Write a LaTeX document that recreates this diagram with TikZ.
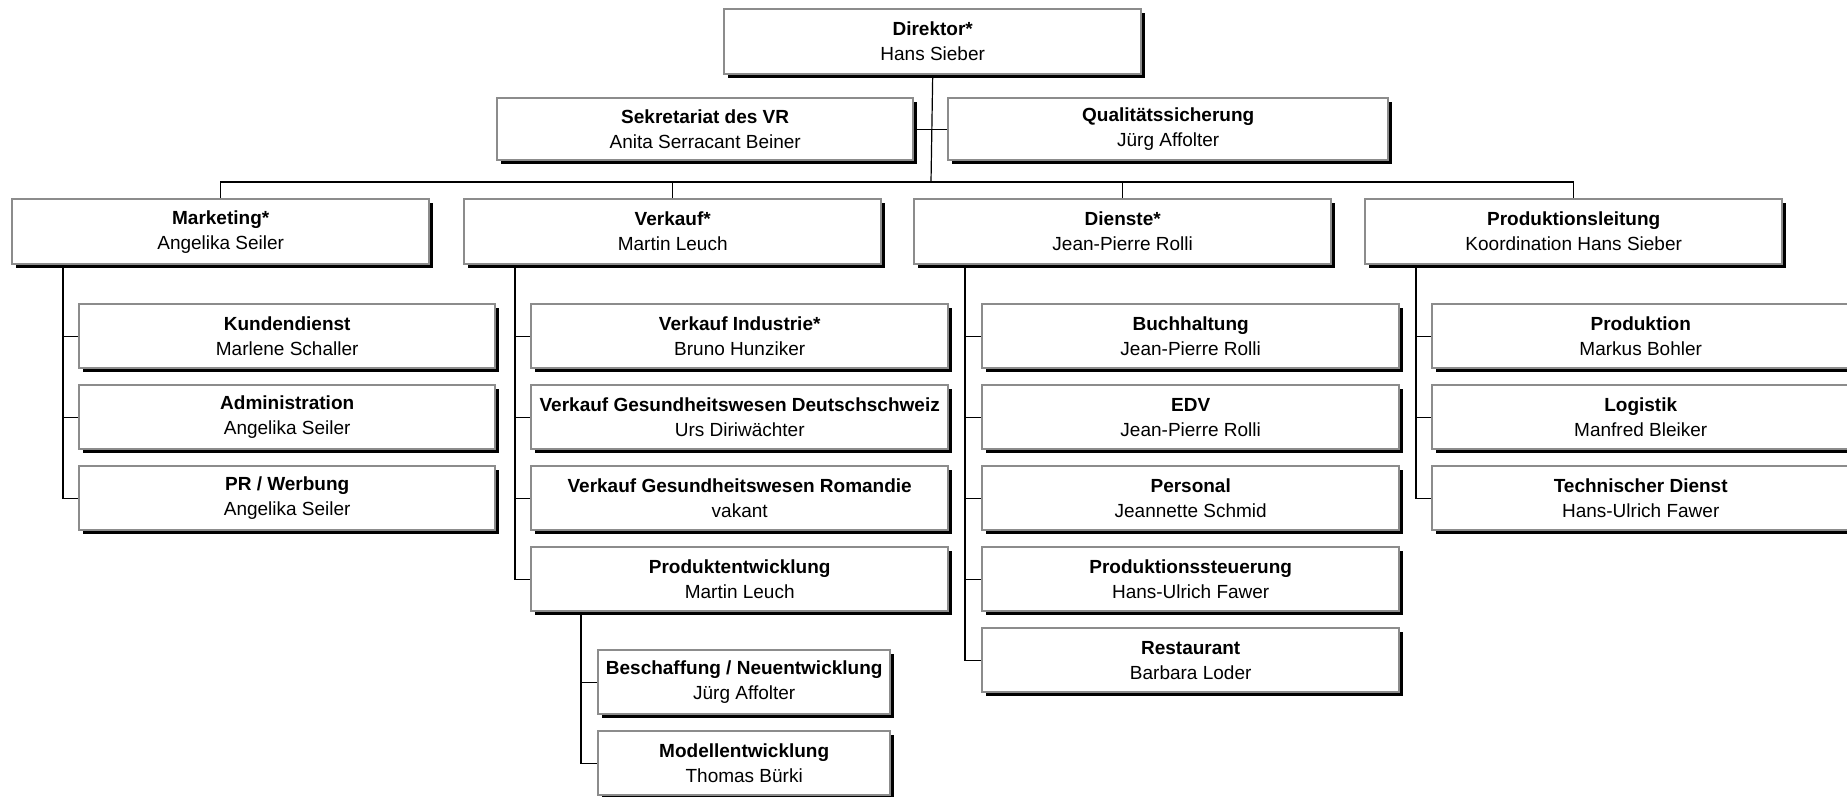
\documentclass[tikz,border=0pt]{standalone}
\usepackage{fontspec}
\setmainfont{Liberation Sans}
\usetikzlibrary{calc,shadows}
\tikzset{
	box/.style={draw=black!45, line width=2.4pt, fill=white, anchor=north west, align=center, inner sep=0pt,
		minimum width=417, minimum height=64, font=\fontsize{19}{25}\selectfont,
		drop shadow={shadow xshift=4pt, shadow yshift=-4pt, fill=black, opacity=1}},
	link/.style={line width=1.2pt}
}

\begin{document}
\begin{tikzpicture}[x=1pt, y=-1pt]
			%%%%% START %%%%%
			\useasboundingbox (0, 0) rectangle (1847, 797);
			
			% Leitung
			\node[box, minimum height=65] (dir) at (723, 8) {\textbf{Direktor*}\\Hans Sieber};
			\node[box, minimum width=416, minimum height=62] (sek) at (496, 97) {\textbf{Sekretariat des VR}\\Anita Serracant Beiner};
			\node[box, minimum width=440, minimum height=62] (qs) at (947, 97) {\textbf{Qualitätssicherung}\\Jürg Affolter};
			
			% Bereiche
			\node[box, minimum height=65] (mkt) at (11, 198) {\textbf{Marketing*}\\Angelika Seiler};
			\node[box, minimum height=65] (vk) at (463, 198) {\textbf{Verkauf*}\\Martin Leuch};
			\node[box, minimum height=65] (dst) at (913, 198) {\textbf{Dienste*}\\Jean-Pierre Rolli};
			\node[box, minimum height=65] (pl) at (1364, 198) {\textbf{Produktionsleitung}\\Koordination Hans Sieber};
			
			% Marketing
			\node[box, minimum width=416] (kd) at (78, 303) {\textbf{Kundendienst}\\Marlene Schaller};
			\node[box, minimum width=416] (adm) at (78, 384) {\textbf{Administration}\\Angelika Seiler};
			\node[box, minimum width=416] (pr) at (78, 465) {\textbf{PR / Werbung}\\Angelika Seiler};
			
			% Verkauf
			\node[box] (vi) at (530, 303) {\textbf{Verkauf Industrie*}\\Bruno Hunziker};
			\node[box] (vgd) at (530, 384) {\textbf{Verkauf Gesundheitswesen Deutschschweiz}\\Urs Diriwächter};
			\node[box] (vgr) at (530, 465) {\textbf{Verkauf Gesundheitswesen Romandie}\\vakant};
			\node[box] (pe) at (530, 546) {\textbf{Produktentwicklung}\\Martin Leuch};
			\node[box, minimum width=292] (bes) at (597, 649) {\textbf{Beschaffung / Neuentwicklung}\\Jürg Affolter};
			\node[box, minimum width=292] (mod) at (597, 730) {\textbf{Modellentwicklung}\\Thomas Bürki};
			
			% Dienste
			\node[box] (bh) at (981, 303) {\textbf{Buchhaltung}\\Jean-Pierre Rolli};
			\node[box] (edv) at (981, 384) {\textbf{EDV}\\Jean-Pierre Rolli};
			\node[box] (pers) at (981, 465) {\textbf{Personal}\\Jeannette Schmid};
			\node[box] (ps) at (981, 546) {\textbf{Produktionssteuerung}\\Hans-Ulrich Fawer};
			\node[box] (rest) at (981, 627) {\textbf{Restaurant}\\Barbara Loder};
			
			% Produktion
			\node[box] (prod) at (1431, 303) {\textbf{Produktion}\\Markus Bohler};
			\node[box] (log) at (1431, 384) {\textbf{Logistik}\\Manfred Bleiker};
			\node[box] (td) at (1431, 465) {\textbf{Technischer Dienst}\\Hans-Ulrich Fawer};
			
			% Linien oben
			\coordinate (bus) at (931, 182);
			\draw[link] (dir.south) -- (bus);
			\draw[link] (sek.east) -- (qs.west);
			\draw[link] (mkt.north) |- (bus) -| (pl.north);
			\draw[link] (vk.north) -- (vk.north |- bus);
			\draw[link] (dst.north) -- (dst.north |- bus);
			
			% Linien unten
			\coordinate (mktl) at ($(mkt.south west)+(52, 0)$);
			\draw[link] (mktl) |- (pr.west);
			\draw[link] (mktl |- kd.west) -- (kd.west);
			\draw[link] (mktl |- adm.west) -- (adm.west);
			
			\coordinate (vkl) at ($(vk.south west)+(52, 0)$);
			\draw[link] (vkl) |- (pe.west);
			\draw[link] (vkl |- vi.west) -- (vi.west);
			\draw[link] (vkl |- vgd.west) -- (vgd.west);
			\draw[link] (vkl |- vgr.west) -- (vgr.west);
			
			\coordinate (pel) at ($(pe.south west)+(51, 0)$);
			\draw[link] (pel) |- (mod.west);
			\draw[link] (pel |- bes.west) -- (bes.west);
			
			\coordinate (dstl) at ($(dst.south west)+(52, 0)$);
			\draw[link] (dstl) |- (rest.west);
			\draw[link] (dstl |- bh.west) -- (bh.west);
			\draw[link] (dstl |- edv.west) -- (edv.west);
			\draw[link] (dstl |- pers.west) -- (pers.west);
			\draw[link] (dstl |- ps.west) -- (ps.west);
			
			\coordinate (pll) at ($(pl.south west)+(52, 0)$);
			\draw[link] (pll) |- (td.west);
			\draw[link] (pll |- prod.west) -- (prod.west);
			\draw[link] (pll |- log.west) -- (log.west);
			
			%%%%% END %%%%%
\end{tikzpicture}
\end{document}
